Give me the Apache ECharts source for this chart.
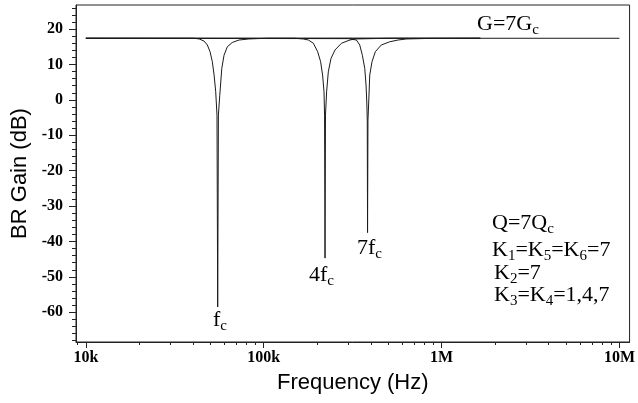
<!DOCTYPE html>
<html>
<head>
<meta charset="utf-8">
<script src="https://cdn.jsdelivr.net/npm/echarts@6/dist/echarts.min.js"></script>
<style>
  html, body { margin: 0; padding: 0; background: #fff; }
  #brChart { width: 638px; height: 403px; }
</style>
</head>
<body>
<div id="brChart"></div>
<script>
// K3=K4=1 -> notch at fc
var freqK1 = [10000, 40600, 43400, 46200, 48200, 49900, 51400, 52600, 53700, 54600, 55100, 55600, 56600, 58100, 59800, 62400, 66500, 72500, 82400, 91400, 107000, 1650000];
var gainK1 = [17.4, 17.4, 17.2, 16.6, 15.5, 13.6, 10.8, 7.0, 2.3, -4.3, -58.5, -4.3, 1.3, 8.9, 12.6, 15.0, 16.2, 16.9, 17.2, 17.3, 17.4, 17.4];

// K3=K4=4 -> notch at 4fc
var freqK4 = [10000, 150000, 167300, 178300, 190100, 201000, 208800, 214300, 218200, 219800, 221100, 222400, 225700, 230700, 238800, 251600, 273800, 305000, 325000, 400000, 500000, 1650000];
var gainK4 = [17.4, 17.4, 17.2, 16.9, 16.0, 13.6, 10.8, 7.0, 2.3, -4.3, -44.7, -4.3, 2.3, 7.9, 11.7, 14.1, 16.0, 16.9, 17.2, 17.3, 17.4, 17.4];

// K3=K4=7 -> notch at 7fc
var freqK7 = [10000, 298500, 332000, 346600, 358600, 369800, 376000, 379700, 382000, 383500, 385500, 389300, 394500, 406300, 424000, 458000, 510000, 568000, 632000, 836000, 1650000];
var gainK7 = [17.4, 17.3, 16.9, 15.5, 12.6, 8.9, 4.2, -0.6, -5.7, -37.5, -5.7, -0.6, 7.0, 10.8, 13.6, 15.5, 16.4, 16.9, 17.2, 17.35, 17.4];

// G=7Gc reference line
var freqG = [10000, 10000000];
var gainG = [17.4, 17.4];

var xMajor = [10000, 100000, 1000000, 10000000];
var xMajorLabels = ['10k', '100k', '1M', '10M'];
var xMinor = [9000, 20000, 30000, 40000, 50000, 60000, 70000, 80000, 90000,
              200000, 300000, 400000, 500000, 600000, 700000, 800000, 900000,
              2000000, 3000000, 4000000, 5000000, 6000000, 7000000, 8000000, 9000000];
var yMajor = [-60, -50, -40, -30, -20, -10, 0, 10, 20];
var yMinor = [-68, -66, -64, -62, -58, -56, -54, -52, -48, -46, -44, -42, -38, -36, -34, -32,
              -28, -26, -24, -22, -18, -16, -14, -12, -8, -6, -4, -2, 2, 4, 6, 8,
              12, 14, 16, 18, 22, 24, 26];

function pairs(xs, ys) {
    var out = [];
    for (var i = 0; i < xs.length; i++) {
        out.push([xs[i], ys[i]]);
    }
    return out;
}

var serif = 'Liberation Serif';
var lineColor = '#1a1a1a';

function curve(name, data) {
    return {
        name: name,
        type: 'line',
        data: data,
        showSymbol: false,
        symbol: 'none',
        lineStyle: { color: lineColor, width: 1 },
        z: 3
    };
}

var rich = {
    m: { fontFamily: serif, fontSize: 22, lineHeight: 27, color: '#000' },
    s: { fontFamily: serif, fontSize: 15, lineHeight: 15, verticalAlign: 'bottom', color: '#000' }
};

function label(x, y, text) {
    return {
        type: 'text',
        x: x,
        y: y,
        style: {
            text: text,
            rich: rich,
            fill: '#000',
            verticalAlign: 'top'
        },
        z: 10
    };
}

var option = {
    animation: false,
    backgroundColor: '#fff',
    grid: {
        left: 76, right: 6, top: 5, bottom: 61,
        show: true, borderColor: '#222', borderWidth: 1
    },
    xAxis: [
        {
            type: 'log',
            min: 8800,
            max: 11400000,
            name: 'Frequency (Hz)',
            nameLocation: 'middle',
            nameGap: 30,
            nameTextStyle: { fontFamily: 'Liberation Sans', fontSize: 22, color: '#000' },
            axisLine: { onZero: false, lineStyle: { color: '#222' } },
            axisTick: { customValues: xMajor, length: 6, lineStyle: { color: '#222' } },
            axisLabel: {
                customValues: xMajor,
                margin: 8,
                fontFamily: serif,
                fontWeight: 'bold',
                fontSize: 16,
                color: '#000',
                formatter: function (v) {
                    var i = xMajor.indexOf(v);
                    return i >= 0 ? xMajorLabels[i] : '';
                }
            },
            splitLine: { show: false }
        },
        {
            type: 'log',
            min: 8800,
            max: 11400000,
            position: 'bottom',
            axisLine: { show: false, onZero: false },
            axisTick: { customValues: xMinor, length: 3, lineStyle: { color: '#222' } },
            axisLabel: { show: false },
            splitLine: { show: false }
        }
    ],
    yAxis: [
        {
            type: 'value',
            min: -68.4,
            max: 26.8,
            name: 'BR Gain (dB)',
            nameLocation: 'middle',
            nameGap: 44,
            nameTextStyle: { fontFamily: 'Liberation Sans', fontSize: 22, color: '#000' },
            axisLine: { show: true, onZero: false, lineStyle: { color: '#222' } },
            axisTick: { show: true, customValues: yMajor, length: 7, lineStyle: { color: '#222' } },
            axisLabel: {
                customValues: yMajor,
                margin: 13,
                fontFamily: serif,
                fontWeight: 'bold',
                fontSize: 16,
                color: '#000'
            },
            splitLine: { show: false }
        },
        {
            type: 'value',
            min: -68.4,
            max: 26.8,
            position: 'left',
            axisLine: { show: false, onZero: false },
            axisTick: { show: true, customValues: yMinor, length: 4, lineStyle: { color: '#222' } },
            axisLabel: { show: false },
            splitLine: { show: false }
        }
    ],
    series: [
        curve('G', pairs(freqG, gainG)),
        curve('K=1', pairs(freqK1, gainK1)),
        curve('K=4', pairs(freqK4, gainK4)),
        curve('K=7', pairs(freqK7, gainK7))
    ],
    graphic: [
        label(477, 11, '{m|G=7G}{s|c}'),
        label(213, 307, '{m|f}{s|c}'),
        label(309, 262, '{m|4f}{s|c}'),
        label(357, 235, '{m|7f}{s|c}'),
        label(492, 210, '{m|Q=7Q}{s|c}'),
        label(492, 237, '{m|K}{s|1}{m|=K}{s|5}{m|=K}{s|6}{m|=7}'),
        label(494, 260, '{m|K}{s|2}{m|=7}'),
        label(494, 282, '{m|K}{s|3}{m|=K}{s|4}{m|=1,4,7}')
    ]
};

var brChart = echarts.init(document.getElementById('brChart'));
brChart.setOption(option);
</script>
</body>
</html>
